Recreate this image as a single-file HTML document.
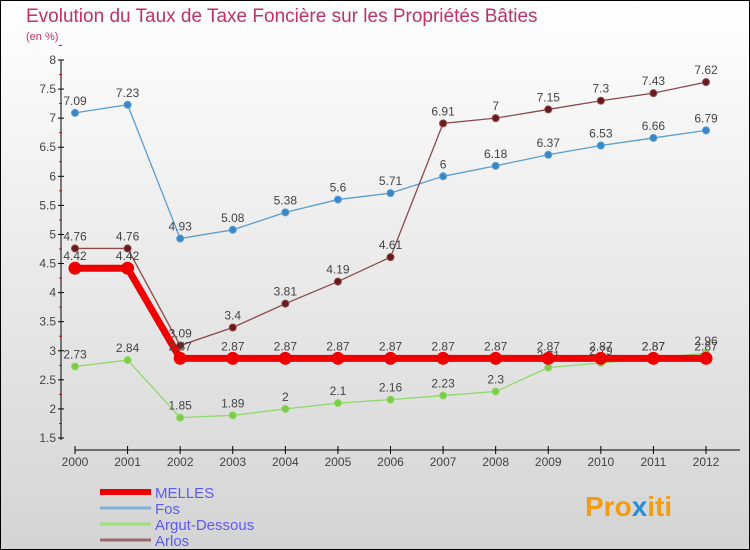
<!DOCTYPE html>
<html><head><meta charset="utf-8"><style>
body{margin:0}
#c{width:750px;height:550px;position:relative;box-sizing:border-box;border:1px solid #000;background:linear-gradient(#fff,#d4d4d4);font-family:"Liberation Sans",sans-serif;overflow:hidden}
</style></head><body>
<div id="c">
<svg id="s" width="750" height="550" style="position:absolute;left:-1px;top:-1px">
<text x="26" y="22" font-size="19" fill="#c0306a">Evolution du Taux de Taxe Foncière sur les Propriétés Bâties</text>
<text x="26" y="40" font-size="11" fill="#c0306a">(en %)</text>
<text x="585" y="516" font-size="28" font-weight="bold" fill="#f39c12">Pro<tspan fill="#2a8fd6">x</tspan>iti</text>
</svg>
</div>
<script>
const years=[2000,2001,2002,2003,2004,2005,2006,2007,2008,2009,2010,2011,2012];
const melles=[4.42,4.42,2.87,2.87,2.87,2.87,2.87,2.87,2.87,2.87,2.87,2.87,2.87];
const fos=[7.09,7.23,4.93,5.08,5.38,5.6,5.71,6,6.18,6.37,6.53,6.66,6.79];
const argut=[2.73,2.84,1.85,1.89,2,2.1,2.16,2.23,2.3,2.71,2.79,2.87,2.96];
const arlos=[4.76,4.76,3.09,3.4,3.81,4.19,4.61,6.91,7,7.15,7.3,7.43,7.62];
const yTicks=[1.5,2,2.5,3,3.5,4,4.5,5,5.5,6,6.5,7,7.5,8];
const s=document.getElementById('s');
const NS='http://www.w3.org/2000/svg';
const xs=i=>75+i*(706-75)/(years.length-1);
const ys=v=>60+(8-v)*(438-60)/6.5;
function mk(t,a,p){const e=document.createElementNS(NS,t);for(const k in a)e.setAttribute(k,a[k]);(p||s).appendChild(e);return e;}
let ax=mk('line',{x1:61,y1:60,x2:61,y2:440,stroke:'#000'});


yTicks.forEach(v=>{const y=ys(v);mk('line',{x1:58,y1:y,x2:64,y2:y,stroke:'#000'});
mk('line',{x1:59,y1:ys(v+0.25),x2:62,y2:ys(v+0.25),stroke:'#e00'});
const t=mk('text',{x:56,y:y+4,'font-size':12,fill:'#444','text-anchor':'end'});t.textContent=v;

});
let xa=mk('line',{x1:75,y1:450,x2:740,y2:450,stroke:'#000'});


years.forEach((yr,i)=>{const x=xs(i);mk('line',{x1:x,y1:446,x2:x,y2:454,stroke:'#000'});
const t=mk('text',{x:x,y:466,'font-size':12,fill:'#444','text-anchor':'middle'});t.textContent=yr;

});
function series(d,col,w,r,fill,name){
const g=mk('g',{});


mk('polyline',{points:d.map((v,i)=>xs(i)+','+ys(v)).join(' '),fill:'none',stroke:col,'stroke-width':w},g);
d.forEach((v,i)=>{const c=mk('circle',{cx:xs(i),cy:ys(v),r:r,fill:fill,stroke:col},g);


const t=mk('text',{x:xs(i),y:ys(v)-8,'font-size':12,fill:'#444','text-anchor':'middle'},g);t.textContent=v;});}
series(fos,'#5a9ed0',1.3,3.5,'#3a86c8','fos');
series(arlos,'#8a4a4a',1.3,3.5,'#6a1a1a','arlos');
series(argut,'#8fd86a',1.3,3.5,'#7ccc44','argut');
series(melles,'#ee0000',7,6,'#ee0000','melles');
const leg=[['MELLES','#ee0000',6],['Fos','#7fb0d8',3],['Argut-Dessous','#9ee07a',3],['Arlos','#9a6a6a',3]];
leg.forEach((l,i)=>{const y=492+i*16;const g=mk('g',{});


mk('line',{x1:100,y1:y,x2:151,y2:y,stroke:l[1],'stroke-width':l[2]},g);
const t=mk('text',{x:155,y:y+6,'font-size':15,fill:'#5b5bf0'},g);t.textContent=l[0];});
</script>
</body></html>
